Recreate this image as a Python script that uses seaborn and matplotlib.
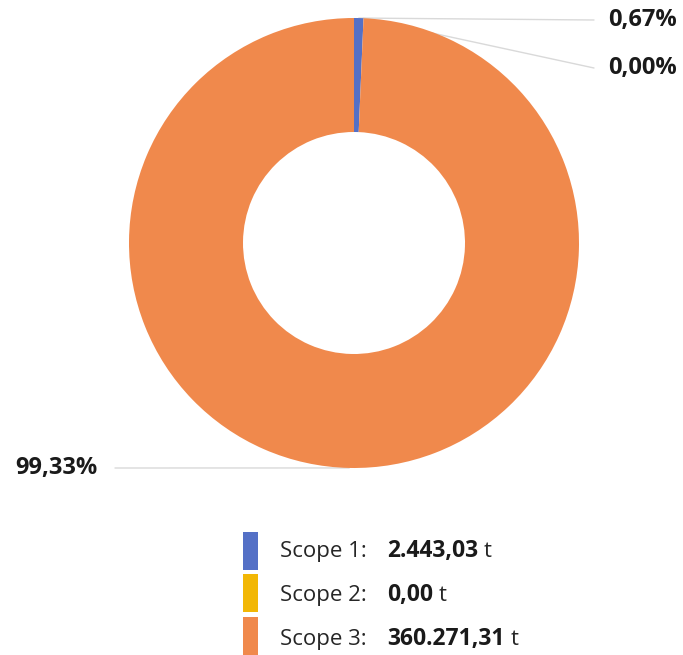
import matplotlib
matplotlib.use("Agg")
import matplotlib.pyplot as plt
from matplotlib.patches import Rectangle
import numpy as np
import seaborn as sns

sns.set_theme(style="white")
plt.rcParams['font.family'] = ['Open Sans', 'DejaVu Sans']

# data
scopes = ["Scope 1:", "Scope 2:", "Scope 3:"]
values = [2443.03, 0.00, 360271.31]
value_labels = ["2.443,03", "0,00", "360.271,31"]
pct_labels = ["0,67%", "0,00%", "99,33%"]
colors = sns.color_palette(["#5470C6", "#F2B705", "#F0894C"])

W, H = 683, 655
fig = plt.figure(figsize=(W / 100, H / 100), dpi=100)
ax = fig.add_axes([0, 0, 1, 1])

def px(x, y):
    return x, H - y

cx, cy = px(354, 243)
R = 225
wedges, _ = ax.pie(values, colors=colors, startangle=90, counterclock=False,
                   center=(cx, cy), radius=R,
                   wedgeprops=dict(width=114, linewidth=0))
ax.set_xlim(0, W)
ax.set_ylim(0, H)
ax.set_aspect("equal")
ax.axis("off")

# leader lines + percentage labels
line_kw = dict(color="#D9D9D9", lw=1, zorder=0)
label_pos = [(608, 20, "left"), (608, 68, "left"), (98, 468, "right")]
for w, lab, (lx, ly, ha) in zip(wedges, pct_labels, label_pos):
    if w.theta2 - w.theta1 > 1e-9:
        ang = np.deg2rad((w.theta1 + w.theta2) / 2)
    else:
        ang = np.deg2rad(w.theta1)
    sx, sy = cx + R * np.cos(ang), cy + R * np.sin(ang)
    tx, ty = px(lx, ly)
    ex = tx - 14 if ha == "left" else tx + 17
    ax.plot([sx, ex], [sy, ty], **line_kw)
    ax.text(tx, ty, lab, ha=ha, va="center", fontsize=17,
            fontweight="bold", color="#1a1a1a")

# legend
fig.canvas.draw()
renderer = fig.canvas.get_renderer()
rows_y = [551, 593, 636]
baselines = [557, 601, 645]
for name, val, c, ry, by in zip(scopes, value_labels, colors, rows_y, baselines):
    x0, y0 = px(243, ry + 19)
    ax.add_patch(Rectangle((x0, y0), 15, 38, color=c, lw=0))
    ax.text(*px(280, by), name, ha="left", va="baseline", fontsize=16,
            color="#262626")
    t = ax.text(*px(387, by), val, ha="left", va="baseline", fontsize=16.5,
                fontweight="bold", color="#1a1a1a")
    bb = t.get_window_extent(renderer=renderer)
    ax.text(bb.x1 + 6, H - by, "t", ha="left", va="baseline", fontsize=16,
            color="#262626")

fig.savefig("out.png", dpi=100)
